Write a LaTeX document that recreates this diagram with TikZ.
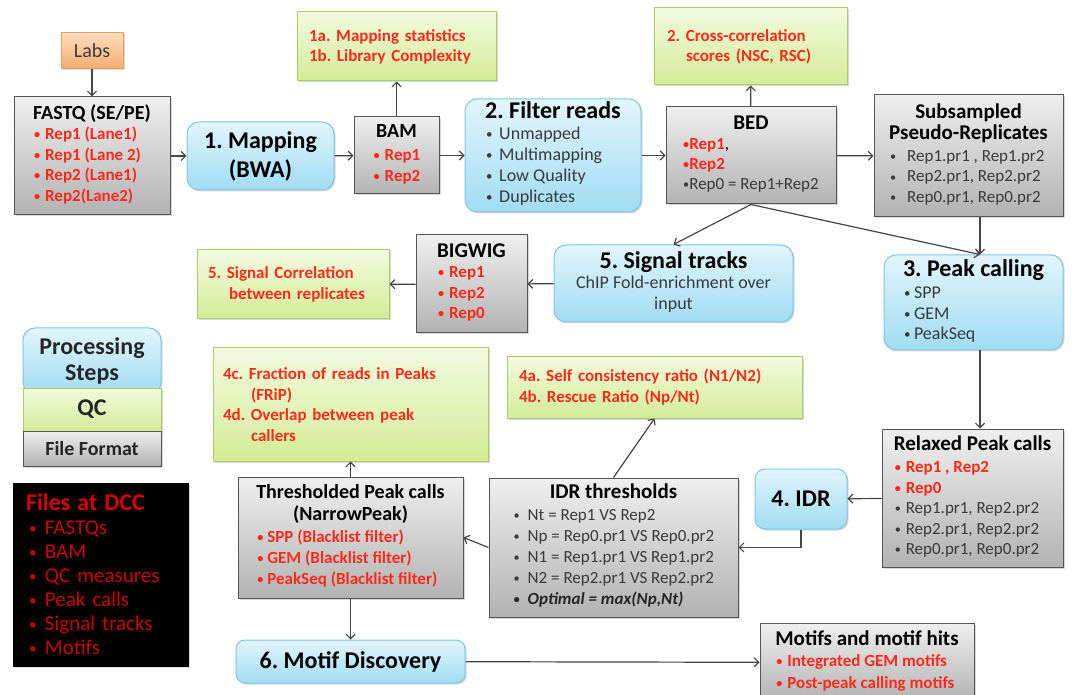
\documentclass[tikz,border=0pt]{standalone}
\usepackage{fontspec}
\usepackage{graphicx}
\setmainfont{Carlito}
\usetikzlibrary{arrows.meta,shadows}
\frenchspacing

% palette
\definecolor{qred}{HTML}{FF2A1A}
\definecolor{qgray}{HTML}{3A3A3A}
\definecolor{dccred}{HTML}{CC0000}
\definecolor{filetop}{HTML}{EFEFEF}
\definecolor{filebot}{HTML}{B2B2B2}
\definecolor{fileline}{HTML}{555555}
\definecolor{steptop}{HTML}{E2F5FC}
\definecolor{stepbot}{HTML}{A0DCF3}
\definecolor{stepline}{HTML}{7FC6E3}
\definecolor{qctop}{HTML}{F3FADF}
\definecolor{qcbot}{HTML}{D3EC96}
\definecolor{qcline}{HTML}{A9CF62}
\definecolor{labtop}{HTML}{FDDCBD}
\definecolor{labbot}{HTML}{F5AC70}
\definecolor{labline}{HTML}{E4A060}
\definecolor{arrowc}{HTML}{454545}

% text helpers
\newcommand\sz[2]{\fontsize{#1}{#2}\selectfont}
\newcommand\hd[2]{\multicolumn{1}{@{}c@{}}{\fontsize{#1}{#1}\selectfont\bfseries #2}}
\newcommand\smalldot{\raisebox{0.12ex}{\scalebox{0.72}{\textbullet}}}
\newcommand\bul[2][12]{\makebox[#1pt][l]{\hspace{1pt}\smalldot}#2}
\newcommand\rb[2][12]{{\color{qred}\bfseries\bul[#1]{#2}}}
\newcommand\gb[2][12]{{\color{qgray}\bul[#1]{#2}}}

\tikzset{
  box/.style={line width=1pt, inner sep=0pt, align=center,
    drop shadow={opacity=0.3, shadow xshift=1.5pt, shadow yshift=-1.5pt}},
  filebox/.style={box, draw=fileline, top color=filetop, bottom color=filebot},
  stepbox/.style={box, draw=stepline, top color=steptop, bottom color=stepbot, rounded corners=12pt},
  qcbox/.style={box, draw=qcline, top color=qctop, bottom color=qcbot, text=qred, align=left},
  labbox/.style={box, draw=labline, top color=labtop, bottom color=labbot},
  dccbox/.style={box, draw=black, fill=black, align=left},
  arr/.style={draw=arrowc, line width=1.2pt, -{Straight Barb[length=4.5pt,width=9pt]}},
}

\begin{document}
\begin{tikzpicture}[x=1pt,y=-1pt]
\fill[white] (0,0) rectangle (1072,695);
\useasboundingbox (0,0) rectangle (1072,695);
\clip (0,0) rectangle (1072,695);

% ---- top row ----
\node[labbox, minimum width=62, minimum height=36, font=\sz{20}{24}, text=qgray] (labs) at (92,51) {Labs};

\node[filebox, minimum width=156, minimum height=118, font=\sz{17}{20.5}] (fastq) at (92,156)
  {\begin{tabular}{@{}l@{}}\hd{20}{FASTQ (SE/PE)}\\ \rb{Rep1 (Lane1)}\\ \rb{Rep1 (Lane 2)}\\ \rb{Rep2 (Lane1)}\\ \rb{Rep2(Lane2)}\end{tabular}};

\node[stepbox, minimum width=147, minimum height=68, font=\sz{24}{29}\bfseries] (map) at (260.5,156)
  {1. Mapping\\(BWA)};

\node[filebox, minimum width=85, minimum height=77, font=\sz{17}{21}] (bam) at (396.5,155.5)
  {\begin{tabular}{@{}l@{}}\hd{20}{BAM}\\[2pt] \rb{Rep1}\\ \rb{Rep2}\end{tabular}};

\node[qcbox, minimum width=199, minimum height=69, text width=175, font=\sz{17}{20}\bfseries] (qc1) at (396.5,46.5)
  {1a. Mapping statistics\\1b. Library Complexity};

\node[stepbox, minimum width=176, minimum height=113, font=\sz{18}{21}] (filter) at (553,155.5)
  {\begin{tabular}{@{}l@{}}\hd{24}{2. Filter reads}\\ \gb[14]{Unmapped}\\ \gb[14]{Multimapping}\\ \gb[14]{Low Quality}\\ \gb[14]{Duplicates}\end{tabular}};

\node[filebox, minimum width=170, minimum height=97, font=\sz{17}{20}] (bed) at (751,155.5)
  {\begin{tabular}{@{}l@{}}\hd{21}{BED}\\ {\color{qred}\bfseries\smalldot Rep1},\\ {\color{qred}\bfseries\smalldot Rep2}\\ {\color{qgray}\smalldot Rep0 = Rep1+Rep2}\end{tabular}};

\node[qcbox, minimum width=193, minimum height=77, text width=167, font=\sz{17}{20}\bfseries] (qc2) at (750.5,46.5)
  {2. Cross-correlation\\\hspace*{19pt}scores (NSC, RSC)};

\node[filebox, minimum width=189, minimum height=122, font=\sz{17}{20.5}] (sub) at (968.5,156)
  {\begin{tabular}{@{}l@{}}\hd{21}{Subsampled}\\[1pt] \hd{21}{Pseudo-Replicates}\\[1pt] \gb[18]{Rep1.pr1 , Rep1.pr2}\\ \gb[18]{Rep2.pr1, Rep2.pr2}\\ \gb[18]{Rep0.pr1, Rep0.pr2}\end{tabular}};

% ---- middle row ----
\node[stepbox, minimum width=179, minimum height=95, font=\sz{18}{20.5}] (peak) at (973.5,302.5)
  {\begin{tabular}{@{}l@{}}\hd{24}{3. Peak calling}\\[2pt] \gb[11]{SPP}\\ \gb[11]{GEM}\\ \gb[11]{PeakSeq}\end{tabular}};

\node[stepbox, minimum width=239, minimum height=77, font=\sz{18}{20.5}] (signal) at (673.5,283.5)
  {\begin{tabular}{@{}c@{}}\hd{24}{5. Signal tracks}\\ \color{qgray}ChIP Fold-enrichment over\\ \color{qgray}input\end{tabular}};

\node[filebox, minimum width=111, minimum height=98, font=\sz{17}{20.5}] (bigwig) at (471.5,284)
  {\begin{tabular}{@{}l@{}}\hd{21}{BIGWIG}\\ \rb{Rep1}\\ \rb{Rep2}\\ \rb{Rep0}\end{tabular}};

\node[qcbox, minimum width=192, minimum height=69, text width=170, font=\sz{17}{20.5}\bfseries] (qc5) at (293,284.5)
  {5. Signal Correlation\\\hspace*{21pt}between replicates};

% ---- legend ----
\node[stepbox, minimum width=138, minimum height=66, font=\sz{24}{26}\bfseries, text=black!85] (legstep) at (92,361)
  {Processing\\Steps};
\node[box, draw=qcline, top color=qctop, bottom color=qcbot, minimum width=138, minimum height=43, font=\sz{24}{24}\bfseries, text=black!85] (legqc) at (92,409.5) {QC};
\node[filebox, minimum width=138, minimum height=35, font=\sz{20}{20}\bfseries, text=black!85] (legfile) at (92,448.5) {File Format};

\node[dccbox, minimum width=175, minimum height=183, text width=149, font=\sz{21}{24}, text=dccred] (dcc) at (100.5,574.5)
  {{\fontsize{24}{24}\selectfont\bfseries\color{red!85!black}Files at DCC}\\
   \hspace*{2pt}\bul[17]{FASTQs}\\
   \hspace*{2pt}\bul[17]{BAM}\\
   \hspace*{2pt}\bul[17]{QC measures}\\
   \hspace*{2pt}\bul[17]{Peak calls}\\
   \hspace*{2pt}\bul[17]{Signal tracks}\\
   \hspace*{2pt}\bul[17]{Motifs}};

% ---- lower part ----
\node[qcbox, minimum width=275, minimum height=113, text width=255, font=\sz{17}{20.7}\bfseries] (qc4cd) at (350.5,404.5)
  {4c. Fraction of reads in Peaks\\\hspace*{28pt}(FRiP)\\4d. Overlap between peak\\\hspace*{28pt}callers};

\node[qcbox, minimum width=295, minimum height=61, text width=271, font=\sz{17}{21}\bfseries] (qc4ab) at (654.5,387.5)
  {4a. Self consistency ratio (N1/N2)\\4b. Rescue Ratio (Np/Nt)};

\node[filebox, minimum width=181, minimum height=138, font=\sz{17}{20.5}] (relaxed) at (972.5,498)
  {\begin{tabular}{@{}l@{}}\hd{21}{Relaxed Peak calls}\\[2pt] \rb{Rep1 , Rep2}\\ \rb{Rep0}\\ \gb{Rep1.pr1, Rep2.pr2}\\ \gb{Rep2.pr1, Rep2.pr2}\\ \gb{Rep0.pr1, Rep0.pr2}\end{tabular}};

\node[stepbox, rounded corners=10pt, minimum width=92, minimum height=60, font=\sz{24}{24}\bfseries] (idr) at (801,499) {4. IDR};

\node[filebox, minimum width=249, minimum height=139, font=\sz{17}{21}] (idrth) at (613.5,547.5)
  {\begin{tabular}{@{}l@{}}\hd{21}{IDR thresholds}\\[1pt] \gb[15]{Nt = Rep1 VS Rep2}\\ \gb[15]{Np = Rep0.pr1 VS Rep0.pr2}\\ \gb[15]{N1 = Rep1.pr1 VS Rep1.pr2}\\ \gb[15]{N2 = Rep2.pr1 VS Rep2.pr2}\\ {\color{black!85}\bfseries\itshape\bul[15]{Optimal = max(Np,Nt)}}\end{tabular}};

\node[filebox, minimum width=225, minimum height=121, font=\sz{17}{21}] (thr) at (350.5,537.5)
  {\begin{tabular}{@{}l@{}}\hd{20}{Thresholded Peak calls}\\[1pt] \hd{20}{(NarrowPeak)}\\[1pt] \rb[11]{SPP (Blacklist filter)}\\ \rb[11]{GEM (Blacklist filter)}\\ \rb[11]{PeakSeq (Blacklist filter)}\end{tabular}};

\node[stepbox, rounded corners=9pt, minimum width=229, minimum height=43, font=\sz{24}{24}\bfseries] (motif) at (350.5,661.5) {6. Motif Discovery};

\node[filebox, minimum width=214, minimum height=79, font=\sz{17}{21.5}] (motifs) at (867,662.5)
  {\begin{tabular}{@{}l@{}}\hd{21}{Motifs and motif hits}\\ \rb{Integrated GEM motifs}\\ \rb{Post-peak calling motifs}\end{tabular}};

% ---- connectors ----
\coordinate (colx) at (980,0);
\draw[arr] (labs) -- (fastq);
\draw[arr] (fastq) -- (map);
\draw[arr] (map) -- (bam);
\draw[arr] (bam) -- (qc1);
\draw[arr] (bam) -- (filter);
\draw[arr] (filter) -- (bed);
\draw[arr] (bed) -- (qc2);
\draw[arr] (bed) -- (sub);
\draw[arr] (sub.south -| colx) -- (peak.north -| colx);
\draw[arr] (bed.south) -- (signal.north);
\draw[arr] (bed.south) -- (peak.north -| colx);
\draw[arr] (signal) -- (bigwig);
\draw[arr] (bigwig) -- (qc5);
\draw[arr] (peak.south -| colx) -- (relaxed.north -| colx);
\draw[arr] (relaxed) -- (idr);
\draw[arr] (idr.south) |- (idrth.east);
\draw[arr] (idrth.north) -- (qc4ab.south);
\draw[arr] (idrth.west) -- (thr.east);
\draw[arr] (thr) -- (qc4cd);
\draw[arr] (thr) -- (motif);
\draw[arr] (motif) -- (motifs);
\end{tikzpicture}
\end{document}
